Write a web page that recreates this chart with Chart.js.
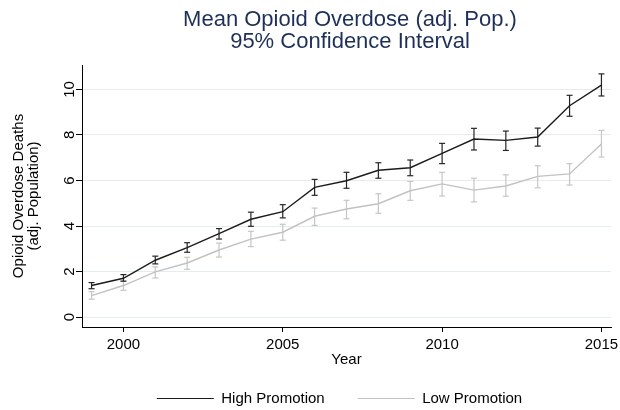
<!DOCTYPE html>
<html>
<head>
<meta charset="utf-8">
<script src="https://cdn.jsdelivr.net/npm/chart.js@4/dist/chart.umd.min.js"></script>
<style>
  html, body { margin: 0; padding: 0; background: #fff; }
  #wrap { width: 620px; height: 410px; }
</style>
</head>
<body>
<div id="wrap"><canvas id="chart" width="620" height="410"></canvas></div>
<script>
// Mean opioid overdose deaths (population adjusted) with 95% CI, by promotion group
const years = [1999, 2000, 2001, 2002, 2003, 2004, 2005, 2006, 2007, 2008, 2009, 2010, 2011, 2012, 2013, 2014, 2015];

const highMean = [1.39, 1.71, 2.50, 3.05, 3.67, 4.30, 4.63, 5.70, 5.99, 6.45, 6.56, 7.19, 7.82, 7.76, 7.91, 9.28, 10.19];
const highLo   = [1.25, 1.58, 2.34, 2.85, 3.43, 3.99, 4.36, 5.35, 5.66, 6.10, 6.21, 6.74, 7.34, 7.32, 7.51, 8.82, 9.71];
const highHi   = [1.52, 1.87, 2.68, 3.27, 3.89, 4.61, 4.94, 6.05, 6.36, 6.78, 6.90, 7.63, 8.29, 8.17, 8.30, 9.74, 10.68];

const lowMean = [0.95, 1.39, 1.99, 2.38, 2.95, 3.43, 3.73, 4.43, 4.75, 4.98, 5.55, 5.85, 5.58, 5.76, 6.18, 6.29, 7.60];
const lowLo   = [0.79, 1.18, 1.72, 2.10, 2.64, 3.10, 3.38, 4.03, 4.32, 4.56, 5.13, 5.32, 5.06, 5.31, 5.68, 5.80, 7.03];
const lowHi   = [1.12, 1.59, 2.21, 2.63, 3.25, 3.77, 4.08, 4.79, 5.13, 5.42, 5.96, 6.36, 6.10, 6.25, 6.65, 6.74, 8.20];

const xTicks = [2000, 2005, 2010, 2015];
const yTicks = [0, 2, 4, 6, 8, 10];

const seriesNames = ['High Promotion', 'Low Promotion'];
const titleLines = ['Mean Opioid Overdose (adj. Pop.)', '95% Confidence Interval'];
const yTitleLines = ['Opioid Overdose Deaths', '(adj. Population)'];
const xTitle = 'Year';

const FONT = 'Liberation Sans, Arial, Helvetica, sans-serif';
const HIGH_COLOR = '#1b1b1b';
const LOW_COLOR = '#c2c2c2';
const GRID_COLOR = '#e4ecef';

function meanPoints(vals) {
  return years.map((yr, i) => ({ x: yr, y: vals[i] }));
}

// Vertical whisker per year (lo -> hi), separated by gaps; caps come from 'line' point style
function whiskerPoints(lo, hi) {
  const pts = [];
  years.forEach((yr, i) => {
    pts.push({ x: yr, y: lo[i] }, { x: yr, y: hi[i] }, { x: yr, y: null });
  });
  return pts;
}

function lineSeries(label, vals, color, width) {
  return {
    label, data: meanPoints(vals),
    borderColor: color, backgroundColor: color, borderWidth: width,
    pointRadius: 0, pointHoverRadius: 0, pointStyle: 'line',
    pointBorderColor: color, pointBorderWidth: 1,
    fill: false, tension: 0
  };
}

function whiskerSeries(label, lo, hi, color) {
  return {
    label, data: whiskerPoints(lo, hi),
    borderColor: color, backgroundColor: color, borderWidth: 1.2,
    pointStyle: 'line', pointRadius: 3, pointHoverRadius: 3,
    pointBorderColor: color, pointBorderWidth: 1.2,
    spanGaps: false, fill: false, tension: 0
  };
}

// Nudges the title and legend blocks after layout (legend keeps its bottom edge so nothing is clipped)
const blockOffsets = {
  id: 'blockOffsets',
  afterLayout(chart) {
    const t = chart.titleBlock;
    if (t) { t.left += 44.5; t.right += 44.5; }
    const l = chart.legend;
    if (l) { l.left += 34; l.right += 34; l.top -= 11; }
  }
};

new Chart(document.getElementById('chart'), {
  type: 'line',
  data: {
    datasets: [
      lineSeries(seriesNames[0], highMean, HIGH_COLOR, 1.4),
      lineSeries(seriesNames[1], lowMean, LOW_COLOR, 1.4),
      whiskerSeries(seriesNames[0] + ' CI', highLo, highHi, '#262626'),
      whiskerSeries(seriesNames[1] + ' CI', lowLo, lowHi, '#c6c6c6')
    ]
  },
  options: {
    responsive: false,
    animation: false,
    devicePixelRatio: 1,
    events: [],
    layout: { padding: { left: 0, right: 9, top: 0, bottom: 0 } },
    scales: {
      x: {
        type: 'linear',
        min: 1998.7,
        max: 2015.3,
        grid: { drawOnChartArea: false, drawTicks: true, tickLength: 5, tickColor: '#000', tickWidth: 1 },
        border: { display: true, color: '#000', width: 1 },
        ticks: {
          font: { family: FONT, size: 15 }, color: '#000', padding: 4,
          autoSkip: false, maxRotation: 0, minRotation: 0,
          callback: v => String(v)
        },
        title: {
          display: true, text: xTitle, color: '#000',
          font: { family: FONT, size: 15, lineHeight: 1.2 },
          padding: { top: 0, bottom: 0 }
        },
        afterBuildTicks: s => { s.ticks = xTicks.map(v => ({ value: v })); },
        afterFit: s => { s.height = 42; s.paddingLeft = 0; s.paddingRight = 0; }
      },
      y: {
        type: 'linear',
        min: -0.43,
        max: 11.07,
        grid: { color: GRID_COLOR, lineWidth: 1, drawTicks: true, tickLength: 6, tickColor: '#000', tickWidth: 1 },
        border: { display: true, color: '#000', width: 1 },
        ticks: {
          font: { family: FONT, size: 15 }, color: '#000',
          minRotation: 90, maxRotation: 90, crossAlign: 'center', padding: -2,
          callback: v => String(v)
        },
        title: {
          display: true, text: yTitleLines, color: '#000',
          font: { family: FONT, size: 15, lineHeight: 1 },
          padding: { top: 11, bottom: 0 }
        },
        afterBuildTicks: s => { s.ticks = yTicks.map(v => ({ value: v })); },
        afterFit: s => { s.width = 82; s.paddingTop = 0; s.paddingBottom = 0; }
      }
    },
    plugins: {
      title: {
        display: true, text: titleLines, color: '#1e3059',
        font: { family: FONT, size: 22, weight: 'normal', lineHeight: 1 },
        padding: { top: 9, bottom: 12 }
      },
      legend: {
        position: 'bottom',
        maxHeight: 41,
        labels: {
          font: { family: FONT, size: 15 }, color: '#000',
          usePointStyle: true, pointStyleWidth: 57, padding: 33,
          filter: item => item.datasetIndex < 2
        }
      },
      tooltip: { enabled: false }
    }
  },
  plugins: [blockOffsets]
});
</script>
</body>
</html>
